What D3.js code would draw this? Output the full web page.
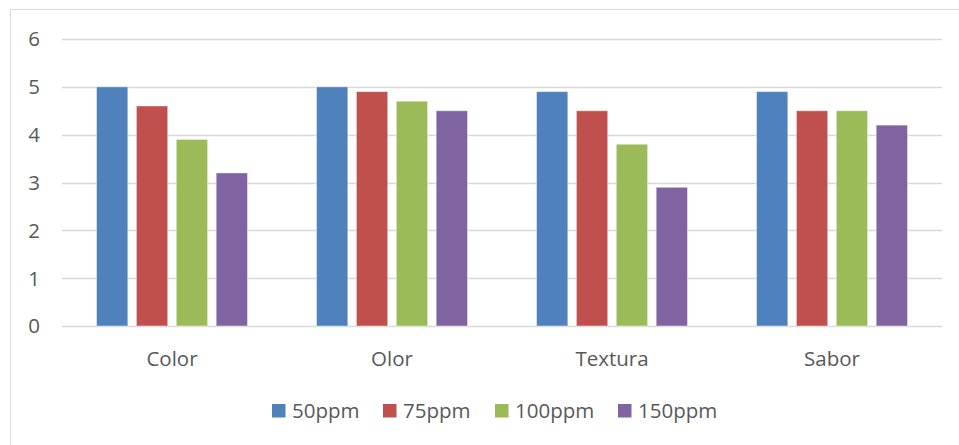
<!DOCTYPE html>
<html>
<head>
<meta charset="utf-8">
<script src="https://cdn.jsdelivr.net/npm/d3@7"></script>
<style>
  html, body { margin: 0; padding: 0; background: #fff; }
  svg { display: block; font-family: "Open Sans", "Noto Sans", sans-serif; }
</style>
</head>
<body>
<svg id="chart" width="959" height="445"></svg>
<script>
// Sensory scores by attribute for each concentration
const categories = ["Color", "Olor", "Textura", "Sabor"];
const seriesNames = ["50ppm", "75ppm", "100ppm", "150ppm"];
const s50 = [5.0, 5.0, 4.9, 4.9];
const s75 = [4.6, 4.9, 4.5, 4.5];
const s100 = [3.9, 4.7, 3.8, 4.5];
const s150 = [3.2, 4.5, 2.9, 4.2];
const yTicks = [0, 1, 2, 3, 4, 5, 6];
const colors = ["#4F81BD", "#C0504D", "#9BBB59", "#8064A2"];

const series = [s50, s75, s100, s150];
const svg = d3.select("#chart");
const W = 959, H = 445;
const FONT = 20.5;

// Outer chart frame
svg.append("rect")
  .attr("x", 10.5).attr("y", 9.5)
  .attr("width", W + 10).attr("height", H + 10)
  .attr("fill", "#fff").attr("stroke", "#d9d9d9").attr("stroke-width", 1);

const plot = { left: 62, right: 942, top: 39, bottom: 326 };

const x0 = d3.scaleBand().domain(categories).range([plot.left, plot.right]).paddingInner(0).paddingOuter(0);
const x1 = d3.scaleBand().domain(seriesNames).range([0, 151]).paddingInner(0.215).paddingOuter(0);
const y = d3.scaleLinear().domain([0, 6]).range([plot.bottom, plot.top]);

// Horizontal gridlines
svg.append("g").selectAll("line").data(yTicks).join("line")
  .attr("x1", plot.left).attr("x2", plot.right)
  .attr("y1", d => Math.round(y(d)) + 0.5).attr("y2", d => Math.round(y(d)) + 0.5)
  .attr("stroke", "#d9d9d9").attr("stroke-width", 1.3);

// Y tick labels
svg.append("g").selectAll("text").data(yTicks).join("text")
  .attr("x", 40).attr("y", d => y(d))
  .attr("dy", "0.36em")
  .attr("text-anchor", "end")
  .attr("fill", "#595959").attr("font-size", FONT)
  .text(d => d);

// Bars
const groups = svg.append("g").selectAll("g").data(categories).join("g")
  .attr("transform", c => `translate(${x0(c) + (x0.bandwidth() - 151) / 2},0)`);

groups.selectAll("rect")
  .data((c, ci) => seriesNames.map((s, si) => ({ s, si, v: series[si][ci] })))
  .join("rect")
  .attr("x", d => x1(d.s))
  .attr("width", x1.bandwidth())
  .attr("y", d => y(d.v))
  .attr("height", d => y(0) - y(d.v))
  .attr("fill", d => colors[d.si])
  .attr("stroke", "#ffffff").attr("stroke-opacity", 0.45).attr("stroke-width", 1);

// Category labels
svg.append("g").selectAll("text").data(categories).join("text")
  .attr("x", c => x0(c) + x0.bandwidth() / 2)
  .attr("y", 366)
  .attr("text-anchor", "middle")
  .attr("fill", "#595959").attr("font-size", FONT)
  .text(c => c);

// Legend
const legendX = [272, 383, 495, 618];
const legend = svg.append("g").selectAll("g").data(seriesNames).join("g")
  .attr("transform", (s, i) => `translate(${legendX[i]},404)`);
legend.append("rect").attr("width", 13.5).attr("height", 13.5)
  .attr("fill", (s, i) => colors[i]);
legend.append("text")
  .attr("x", 20).attr("y", 7).attr("dy", "0.36em")
  .attr("fill", "#595959").attr("font-size", FONT)
  .text(s => s);
</script>
</body>
</html>
